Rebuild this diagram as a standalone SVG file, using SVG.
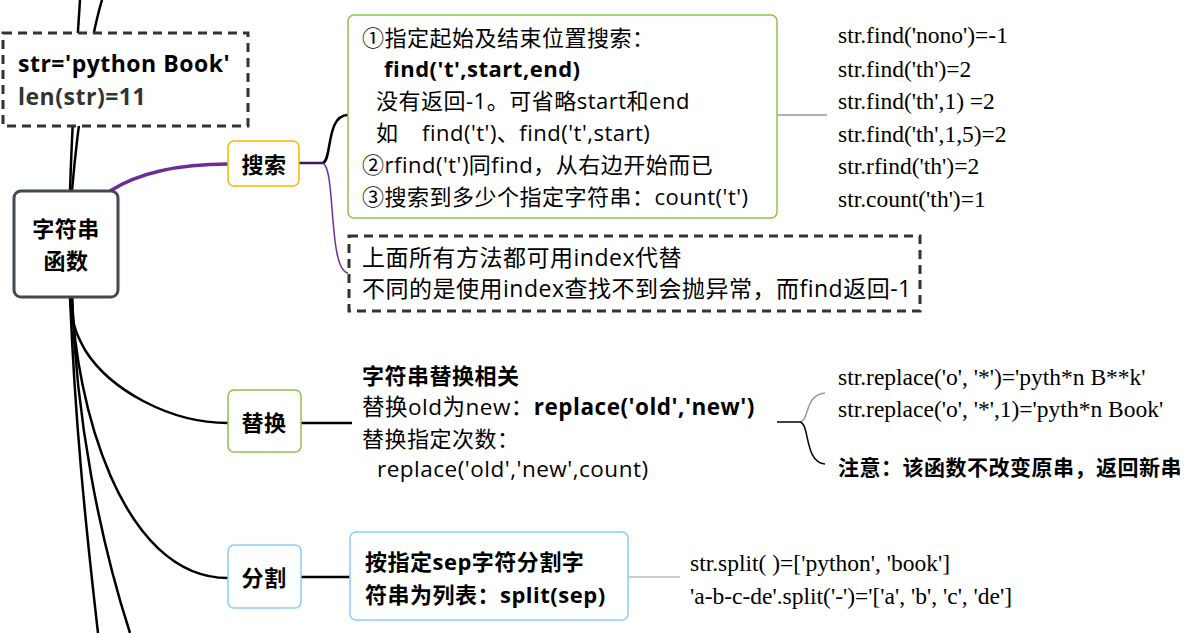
<svg xmlns="http://www.w3.org/2000/svg" width="1201" height="633" viewBox="0 0 1201 633">
<style>
.t{font-family:"Open Sans","Noto Sans CJK SC",sans-serif;font-size:22px;fill:#000;letter-spacing:0.5px}
.b{font-weight:bold}
.s{font-family:"Liberation Serif","Noto Sans CJK SC",serif;font-size:23.5px;fill:#000}
.trunk{fill:none;stroke:#000;stroke-width:2.5}
.dash{fill:#fff;stroke:#333;stroke-width:3;stroke-dasharray:9 6}
</style>
<rect width="1201" height="633" fill="#fff"/>
<g id="connectors">
  <path class="trunk" d="M80,0 C76,60 72,130 70,191"/>
  <path class="trunk" d="M102,0 C90,40 78,120 72,191"/>
  <path class="trunk" d="M70,297 C72,330 80,340 85,350 C110,390 170,423 228,423"/>
  <path class="trunk" d="M72,297 C75,400 120,578 228,578"/>
  <path class="trunk" d="M70,297 C75,420 85,520 98,633"/>
  <path class="trunk" d="M72,297 C76,420 100,540 130,633"/>
  <path d="M110,191 C140,172 180,164 228,164" fill="none" stroke="#6a2e9a" stroke-width="3.5"/>
  <path d="M299,163 L323,163" fill="none" stroke="#3a1a5a" stroke-width="2.5"/>
  <path d="M323,163 C332,160 326,115 348,115" fill="none" stroke="#000" stroke-width="2.5"/>
  <path d="M323,163 C336,170 328,270 348,273" fill="none" stroke="#6a2e9a" stroke-width="1.5"/>
  <path d="M778,115 L827,115" stroke="#999" stroke-width="1.5"/>
  <path d="M301,423 L352,423" stroke="#000" stroke-width="2.5"/>
  <path d="M777,422 L800,422" stroke="#000" stroke-width="1.5"/>
  <path d="M800,422 C810,420 804,395 825,393" fill="none" stroke="#999" stroke-width="1.5"/>
  <path d="M800,422 C810,424 804,462 825,464" fill="none" stroke="#000" stroke-width="1.5"/>
  <path d="M301,577 L350,577" stroke="#000" stroke-width="2.5"/>
  <path d="M628,577 L680,577" stroke="#bbb" stroke-width="1.5"/>
</g>
<g id="strdef">
  <rect class="dash" x="3" y="33" width="245" height="93"/>
  <text class="t b" x="18" y="72" style="font-size:23px">str='python Book'</text>
  <text class="t b" x="18" y="105" style="font-size:23px;fill:#333">len(str)=11</text>
</g>
<g id="center">
  <rect x="14" y="191" width="104" height="106" rx="7" fill="#fff" stroke="#404a54" stroke-width="3"/>
  <text class="t b" x="66" y="237" text-anchor="middle">字符串</text>
  <text class="t b" x="66" y="269" text-anchor="middle">函数</text>
</g>
<g id="search">
  <rect x="228" y="141" width="71" height="45" rx="6" fill="#fff" stroke="#f5b800" stroke-width="1.5"/>
  <text class="t b" x="264" y="173" text-anchor="middle">搜索</text>
</g>
<g id="searchdetail">
  <rect x="348" y="15" width="429" height="203" rx="6" fill="#fff" stroke="#8bc34a" stroke-width="1.5"/>
  <text class="t" x="362" y="45.5">①指定起始及结束位置搜索：</text>
  <text class="t b" x="384" y="77.3">find('t',start,end)</text>
  <text class="t" x="376" y="109.1">没有返回-1。可省略start和end</text>
  <text class="t" x="376" y="140.9">如</text>
  <text class="t" x="422" y="140.9">find('t')、find('t',start)</text>
  <text class="t" x="362" y="172.7">②rfind('t')同find，从右边开始而已</text>
  <text class="t" x="362" y="204.5">③搜索到多少个指定字符串：count('t')</text>
</g>
<g id="searchexamples">
  <text class="s" x="838" y="43">str.find('nono')=-1</text>
  <text class="s" x="838" y="76.5">str.find('th')=2</text>
  <text class="s" x="838" y="109">str.find('th',1) =2</text>
  <text class="s" x="838" y="141.5">str.find('th',1,5)=2</text>
  <text class="s" x="838" y="174">str.rfind('th')=2</text>
  <text class="s" x="838" y="206.5">str.count('th')=1</text>
</g>
<g id="indexnote">
  <rect class="dash" x="349" y="236" width="571" height="75"/>
  <text class="t" x="362" y="266" style="font-size:23px">上面所有方法都可用index代替</text>
  <text class="t" x="362" y="297" style="font-size:23px">不同的是使用index查找不到会抛异常，而find返回-1</text>
</g>
<g id="replace">
  <rect x="228" y="390" width="73" height="62" rx="6" fill="#fff" stroke="#8bc34a" stroke-width="1.5"/>
  <text class="t b" x="264" y="431" text-anchor="middle">替换</text>
</g>
<g id="replacedetail">
  <text class="t b" x="362" y="384">字符串替换相关</text>
  <text class="t" x="362" y="415" style="font-size:22.5px">替换old为new：<tspan font-weight="bold">replace('old','new')</tspan></text>
  <text class="t" x="362" y="447">替换指定次数：</text>
  <text class="t" x="377" y="477" style="font-size:22.5px">replace('old','new',count)</text>
</g>
<g id="replaceexamples">
  <text class="s" x="838" y="385">str.replace('o', '*')='pyth*n B**k'</text>
  <text class="s" x="838" y="417">str.replace('o', '*',1)='pyth*n Book'</text>
  <text class="t b" x="838" y="475" style="font-size:21px">注意：该函数不改变原串，返回新串</text>
</g>
<g id="split">
  <rect x="228" y="545" width="73" height="63" rx="6" fill="#fff" stroke="#90caf9" stroke-width="1.5"/>
  <text class="t b" x="264" y="586" text-anchor="middle">分割</text>
</g>
<g id="splitdetail">
  <rect x="350" y="532" width="278" height="88" rx="6" fill="#fff" stroke="#90caf9" stroke-width="1.5"/>
  <text class="t b" x="365" y="570">按指定sep字符分割字</text>
  <text class="t b" x="365" y="603">符串为列表：split(sep)</text>
</g>
<g id="splitexamples">
  <text class="s" x="690" y="571">str.split( )=['python', 'book']</text>
  <text class="s" x="690" y="604">'a-b-c-de'.split('-')='['a', 'b', 'c', 'de']</text>
</g>
</svg>
